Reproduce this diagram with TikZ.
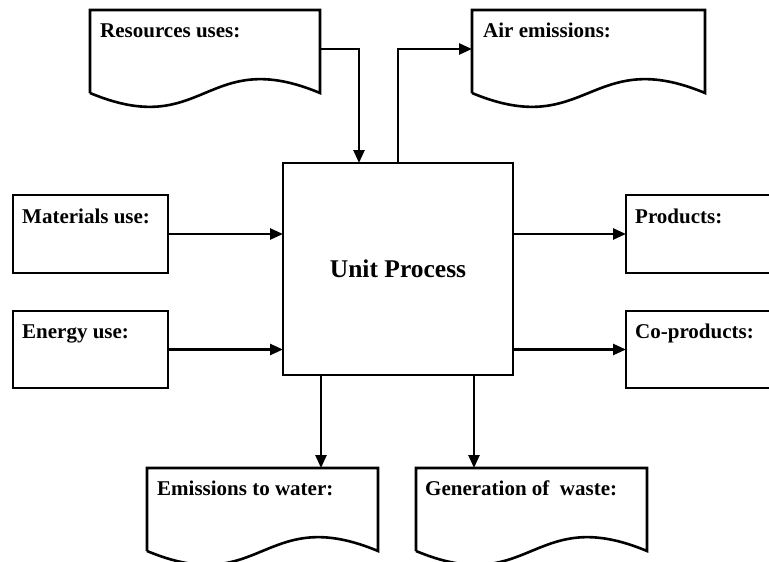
\documentclass[tikz,border=0pt]{standalone}
\usepackage{fontspec}
\setmainfont{Liberation Serif}
\usetikzlibrary{arrows.meta,calc}
\tikzset{
  box/.style={draw, line width=2.6pt, minimum width=#1, inner sep=0pt, outer sep=0pt},
  docbox/.style={draw=none, minimum width=#1, minimum height=83pt, inner sep=0pt, outer sep=0pt},
  lbl/.style={anchor=base west, inner sep=0pt, font=\fontsize{21}{24}\selectfont\bfseries},
  arr/.style={line width=2.6pt, -{Triangle[length=13pt,width=11pt]}},
  docline/.style={line width=2.6pt, line join=miter},
}
\newcommand{\docshape}[1]{%
  \draw[docline] (#1.south west) -- (#1.north west) -- (#1.north east) -- (#1.south east)
    .. controls ($(#1.south east)+(-115,-48)$) and ($(#1.south west)+(115,48)$) .. (#1.south west);}
\begin{document}
\begin{tikzpicture}[x=1pt,y=-1pt]
\useasboundingbox (0,0) rectangle (769,562);
\clip (0,0) rectangle (769,562);
% central box
\node[box=230pt, minimum height=212pt, font=\fontsize{25.5}{30}\selectfont\bfseries] (up) at (398,269) {Unit Process};
% input/output boxes
\node[box=155pt, minimum height=78pt] (mat) at (90.5,234) {};
\node[box=155pt, minimum height=77pt] (ene) at (90.5,349.5) {};
\node[box=170pt, minimum height=78pt] (prod) at (711,234) {};
\node[box=170pt, minimum height=77pt] (cop) at (711,349.5) {};
% documents
\node[docbox=230pt] (res) at (205,51.5) {};
\node[docbox=233pt] (air) at (588.5,51.5) {};
\node[docbox=231pt] (ewat) at (262.5,509.5) {};
\node[docbox=231pt] (gen) at (531.5,509.5) {};
\docshape{res}
\docshape{air}
\docshape{ewat}
\docshape{gen}
% labels
\node[lbl] (res-t) at ([shift={(10,27)}]res.north west) {Resources uses:};
\node[lbl] (air-t) at ([shift={(11,27)}]air.north west) {Air emissions:};
\node[lbl] (mat-t) at ([shift={(9,28)}]mat.north west) {Materials use:};
\node[lbl] (ene-t) at ([shift={(9,27)}]ene.north west) {Energy use:};
\node[lbl] (prod-t) at ([shift={(9,28)}]prod.north west) {Products:};
\node[lbl] (cop-t) at ([shift={(9,27)}]cop.north west) {Co-products:};
\node[lbl] (ewat-t) at ([shift={(10,27)}]ewat.north west) {Emissions to water:};
\node[lbl] (gen-t) at ([shift={(9,27)}]gen.north west) {Generation of\ \ waste:};
% connectors
\draw[arr] ([yshift=2.5pt]res.east) -| ([xshift=-39pt]up.north);
\draw[arr] (up.north) |- ([yshift=2.5pt]air.west);
\draw[arr] (mat.east) -- (mat.east -| up.west);
\draw[arr] (ene.east) -- (ene.east -| up.west);
\draw[arr] (up.east |- prod.west) -- (prod.west);
\draw[arr] (up.east |- cop.west) -- (cop.west);
\draw[arr] ([xshift=-77pt]up.south) -- ([xshift=-77pt]up.south |- ewat.north);
\draw[arr] ([xshift=76pt]up.south) -- ([xshift=76pt]up.south |- gen.north);
\end{tikzpicture}
\end{document}
